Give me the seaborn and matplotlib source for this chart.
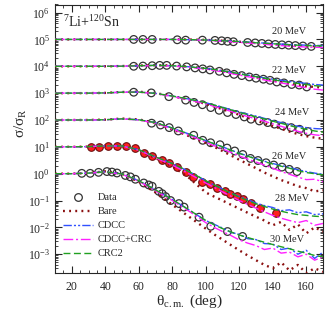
import matplotlib
matplotlib.use('Agg')
import matplotlib.pyplot as plt
import matplotlib.ticker as mticker
import seaborn as sns

# angle grid of the theory curves (deg)
TH = [10, 20, 30, 40, 50, 60, 70, 80, 90, 100, 105, 110, 115, 120, 125, 130,
      135, 140, 145, 150, 155, 160, 165, 170]

# 20 MeV
ang_20 = [57, 62.5, 68, 83, 88, 98, 105.5, 109.5, 113, 116.5, 125, 129.5, 133.5,
          137.5, 141.5, 145.5, 149.5, 153.5, 158, 163]
dat_20 = [1.0, 1.0, 1.0, 0.97, 0.94, 0.94, 0.92, 0.89, 0.85, 0.82, 0.77, 0.74,
          0.71, 0.68, 0.65, 0.63, 0.61, 0.59, 0.57, 0.55]
bare_20 = [1, 1, 1, 1, 1, 1, 1, 1.01, 0.99, 0.96, 0.93, 0.9, 0.86, 0.82, 0.78,
           0.74, 0.7, 0.67, 0.64, 0.61, 0.59, 0.57, 0.56, 0.55]
cdcc_20 = [1, 1, 1, 1, 1, 1, 1, 1, 0.98, 0.95, 0.92, 0.89, 0.86, 0.83, 0.8,
           0.76, 0.73, 0.7, 0.67, 0.65, 0.63, 0.61, 0.6, 0.59]
crc_20 = [1, 1, 1, 1, 1, 1, 1, 1, 0.97, 0.93, 0.9, 0.86, 0.82, 0.78, 0.74,
          0.7, 0.66, 0.62, 0.59, 0.56, 0.54, 0.52, 0.51, 0.5]
crc2_20 = [1, 1, 1, 1, 1, 1, 1, 1, 0.98, 0.95, 0.92, 0.89, 0.86, 0.83, 0.79,
           0.75, 0.72, 0.69, 0.66, 0.63, 0.61, 0.59, 0.58, 0.57]

# 22 MeV
ang_22 = [57, 62.5, 68, 72.5, 76.7, 82.6, 88.6, 93.6, 98.2, 102.5, 108.1, 112.5,
          116.9, 121.5, 126, 130, 134.4, 138.4, 142.4, 146.7, 151.3, 155.8, 160.3]
dat_22 = [1.0, 1.02, 1.05, 1.08, 1.08, 1.02, 0.95, 0.87, 0.8, 0.73, 0.65, 0.57,
          0.5, 0.45, 0.4, 0.36, 0.33, 0.3, 0.26, 0.24, 0.21, 0.2, 0.17]
bare_22 = [1, 1, 1, 1, 1.02, 1.06, 1.1, 1.07, 0.97, 0.83, 0.75, 0.67, 0.59,
           0.51, 0.45, 0.39, 0.34, 0.3, 0.26, 0.23, 0.2, 0.18, 0.17, 0.16]
cdcc_22 = [1, 1, 1, 1, 1.01, 1.05, 1.08, 1.05, 0.96, 0.83, 0.76, 0.68, 0.6,
           0.53, 0.47, 0.42, 0.37, 0.33, 0.3, 0.27, 0.25, 0.23, 0.21, 0.2]
crc_22 = [1, 1, 1, 1, 1.01, 1.04, 1.06, 1.02, 0.92, 0.78, 0.7, 0.62, 0.54,
          0.47, 0.41, 0.36, 0.31, 0.27, 0.24, 0.21, 0.18, 0.16, 0.14, 0.13]
crc2_22 = [1, 1, 1, 1, 1.01, 1.05, 1.08, 1.05, 0.96, 0.83, 0.76, 0.68, 0.6,
           0.53, 0.46, 0.41, 0.36, 0.32, 0.28, 0.25, 0.23, 0.21, 0.19, 0.18]

# 24 MeV
ang_24 = [57, 67.5, 78, 88, 93, 98, 103, 108, 113, 118, 123, 127, 132, 137, 141,
          146, 151, 156, 161]
dat_24 = [1.08, 1.02, 0.74, 0.55, 0.45, 0.37, 0.29, 0.23, 0.19, 0.16, 0.13,
          0.107, 0.092, 0.08, 0.07, 0.06, 0.052, 0.045, 0.037]
bare_24 = [1, 1, 1, 1.02, 1.1, 1.13, 1.0, 0.78, 0.57, 0.4, 0.32, 0.25, 0.2,
           0.155, 0.12, 0.095, 0.075, 0.06, 0.047, 0.037, 0.03, 0.025, 0.022, 0.02]
cdcc_24 = [1, 1, 1, 1.02, 1.08, 1.1, 0.98, 0.78, 0.6, 0.44, 0.36, 0.3, 0.24,
           0.2, 0.165, 0.14, 0.115, 0.095, 0.08, 0.068, 0.058, 0.052, 0.048, 0.046]
crc_24 = [1, 1, 1, 1.02, 1.08, 1.09, 0.96, 0.75, 0.56, 0.4, 0.32, 0.26, 0.21,
          0.165, 0.135, 0.11, 0.09, 0.072, 0.058, 0.047, 0.038, 0.032, 0.028, 0.026]
crc2_24 = [1, 1, 1, 1.02, 1.08, 1.1, 0.98, 0.78, 0.6, 0.44, 0.36, 0.29, 0.24,
           0.19, 0.16, 0.13, 0.11, 0.09, 0.075, 0.062, 0.052, 0.045, 0.039, 0.035]

# 26 MeV
ang_26 = [67.7, 73, 78.2, 83.6, 92.8, 98.2, 102.9, 108.5, 112.7, 117.3, 122.1,
          126.7, 131.2, 136, 140.6, 145.5, 149.9, 154.5]
dat_26 = [0.76, 0.65, 0.52, 0.39, 0.27, 0.175, 0.142, 0.12, 0.09, 0.07, 0.052,
          0.037, 0.031, 0.0255, 0.021, 0.0176, 0.0145, 0.012]
bare_26 = [1, 1, 1, 1.03, 1.13, 1.05, 0.78, 0.45, 0.25, 0.14, 0.1, 0.07, 0.048,
           0.033, 0.023, 0.016, 0.011, 0.008, 0.0058, 0.0045, 0.0034, 0.0029,
           0.0022, 0.0024]
cdcc_26 = [1, 1, 1, 1.02, 1.1, 1.02, 0.8, 0.5, 0.3, 0.17, 0.13, 0.1, 0.076,
           0.058, 0.046, 0.036, 0.029, 0.024, 0.02, 0.017, 0.014, 0.012, 0.0105,
           0.0095]
crc_26 = [1, 1, 1, 1.02, 1.1, 1.0, 0.76, 0.46, 0.27, 0.15, 0.11, 0.083, 0.062,
          0.046, 0.035, 0.027, 0.021, 0.016, 0.012, 0.0095, 0.0075, 0.006,
          0.0062, 0.005]
crc2_26 = [1, 1, 1, 1.02, 1.1, 1.02, 0.8, 0.5, 0.3, 0.17, 0.13, 0.1, 0.075,
           0.057, 0.045, 0.035, 0.028, 0.023, 0.019, 0.016, 0.013, 0.011, 0.01,
           0.009]

# 28 MeV
ang_28 = [31.3, 36.4, 41.8, 47.2, 52.4, 57.8, 63.1, 68, 73.7, 78.2, 83, 88,
          92.6, 97.6, 102.5, 106.9, 111.5, 114.5, 118.5, 122.4, 126.8, 132.4, 141.9]
dat_28 = [1.0, 1.0, 1.09, 1.09, 1.09, 0.89, 0.6, 0.44, 0.32, 0.25, 0.18, 0.12,
          0.076, 0.05, 0.04, 0.03, 0.023, 0.018, 0.0148, 0.0112, 0.0083, 0.0055,
          0.0034]
bare_28 = [1, 1, 1.02, 1.1, 1.1, 0.76, 0.38, 0.19, 0.07, 0.02, 0.014, 0.01,
           0.007, 0.005, 0.0035, 0.0025, 0.0018, 0.0012, 0.0016, 0.0008, 0.0013,
           0.0006, 0.001, 0.0007]
cdcc_28 = [1, 1, 1.02, 1.08, 1.08, 0.78, 0.42, 0.24, 0.12, 0.055, 0.038, 0.027,
           0.019, 0.014, 0.011, 0.008, 0.0065, 0.0055, 0.0042, 0.0045, 0.0035,
           0.0038, 0.003, 0.0032]
crc_28 = [1, 1, 1.02, 1.08, 1.07, 0.75, 0.39, 0.21, 0.1, 0.045, 0.031, 0.021,
          0.0145, 0.01, 0.0072, 0.0052, 0.0038, 0.0028, 0.0022, 0.0018, 0.0015,
          0.0018, 0.0012, 0.0014]
crc2_28 = [1, 1, 1.02, 1.08, 1.08, 0.78, 0.42, 0.24, 0.12, 0.055, 0.038, 0.027,
           0.019, 0.0135, 0.01, 0.0075, 0.006, 0.0048, 0.004, 0.0034, 0.003,
           0.0028, 0.0026, 0.0025]

# 30 MeV
ang_30 = [26, 31, 36, 41, 44, 47, 52, 55, 58, 63, 66, 68, 72, 74, 76, 79, 84,
          87, 96, 103, 113, 122]
dat_30 = [1.03, 1.03, 1.12, 1.2, 1.15, 1.06, 0.86, 0.76, 0.62, 0.45, 0.38, 0.34,
          0.22, 0.18, 0.14, 0.1, 0.077, 0.057, 0.024, 0.011, 0.007, 0.0046]
bare_30 = [1, 1, 1.06, 1.22, 0.98, 0.5, 0.2, 0.07, 0.025, 0.009, 0.0055, 0.0035,
           0.0022, 0.0014, 0.0009, 0.0006, 0.0004, 0.0003, 0.0005, 0.00025,
           0.0004, 0.0002, 0.0003, 0.00022]
cdcc_30 = [1, 1, 1.05, 1.18, 0.98, 0.55, 0.25, 0.11, 0.045, 0.018, 0.013,
           0.0095, 0.0065, 0.0055, 0.0038, 0.0035, 0.0025, 0.0024, 0.0015,
           0.0017, 0.001, 0.0014, 0.0007, 0.0012]
crc_30 = [1, 1, 1.05, 1.17, 0.95, 0.52, 0.23, 0.1, 0.04, 0.015, 0.01, 0.007,
          0.005, 0.0034, 0.0026, 0.0021, 0.0015, 0.0017, 0.0011, 0.0012, 0.0008,
          0.001, 0.0006, 0.0008]
crc2_30 = [1, 1, 1.05, 1.18, 0.98, 0.55, 0.25, 0.11, 0.045, 0.018, 0.0125,
           0.009, 0.0068, 0.0052, 0.0042, 0.0034, 0.0028, 0.0023, 0.0019, 0.0016,
           0.0013, 0.0011, 0.0009, 0.0008]

energies = ['20 MeV', '22 MeV', '24 MeV', '26 MeV', '28 MeV', '30 MeV']
offsets = [1e5, 1e4, 1e3, 1e2, 1e1, 1e0]
label_pos = [(149.7, 1.9e5), (149.7, 6.8e3), (151.8, 182), (149.7, 4.27),
             (151.5, 0.115), (148.8, 3.4e-3)]
x_ticks = [20, 40, 60, 80, 100, 120, 140, 160]
y_ticks = [1e-3, 1e-2, 1e-1, 1e0, 1e1, 1e2, 1e3, 1e4, 1e5, 1e6]

sets = [
    (ang_20, dat_20, bare_20, cdcc_20, crc_20, crc2_20),
    (ang_22, dat_22, bare_22, cdcc_22, crc_22, crc2_22),
    (ang_24, dat_24, bare_24, cdcc_24, crc_24, crc2_24),
    (ang_26, dat_26, bare_26, cdcc_26, crc_26, crc2_26),
    (ang_28, dat_28, bare_28, cdcc_28, crc_28, crc2_28),
    (ang_30, dat_30, bare_30, cdcc_30, crc_30, crc2_30),
]

sns.set_style('ticks')
plt.rcParams['font.family'] = ['Liberation Serif', 'DejaVu Serif']
plt.rcParams['mathtext.fontset'] = 'custom'
plt.rcParams['mathtext.rm'] = 'Liberation Serif'
plt.rcParams['mathtext.it'] = 'Liberation Serif:italic'

fig = plt.figure(figsize=(3.34, 3.12), dpi=100)
ax = fig.add_axes([55 / 334, 1 - 273 / 312, 268 / 334, 268.5 / 312])

styles = {
    'Bare': dict(color='#8b1010', lw=1.7, linestyle=(0, (0.8, 1.8))),
    'CDCC': dict(color='#3050ff', lw=1.0, linestyle=(0, (6, 1.5, 1.5, 1.5, 1.5, 1.5))),
    'CDCC+CRC': dict(color='#ff20ff', lw=1.0, linestyle=(0, (7, 2, 1.5, 2))),
    'CRC2': dict(color='#20a020', lw=1.0, linestyle=(0, (5, 2.5))),
}

for i, (ang, dat, bare, cdcc, crc, crc2) in enumerate(sets):
    f = offsets[i]
    if energies[i] == '28 MeV':
        sns.scatterplot(x=ang, y=[v * f for v in dat], ax=ax, marker='o', s=30,
                        facecolor='#ff2020', edgecolor='#6a1010', linewidth=0.8,
                        zorder=2, legend=False)
    else:
        sns.scatterplot(x=ang, y=[v * f for v in dat], ax=ax, marker='o', s=30,
                        facecolor='none', edgecolor='#333333', linewidth=0.9,
                        zorder=2, legend=False)
    for name, vals in [('Bare', bare), ('CDCC', cdcc), ('CDCC+CRC', crc), ('CRC2', crc2)]:
        sns.lineplot(x=TH, y=[v * f for v in vals], ax=ax, sort=False,
                     estimator=None, zorder=3, legend=False, **styles[name])
    ax.text(label_pos[i][0], label_pos[i][1], energies[i], ha='center',
            va='center', fontsize=7.5)

ax.set_yscale('log')
ax.set_xlim(10, 170)
ax.set_ylim(2e-4, 2e6)
ax.xaxis.set_major_locator(mticker.FixedLocator(x_ticks))
ax.xaxis.set_minor_locator(mticker.FixedLocator(list(range(10, 171, 5))))
ax.yaxis.set_major_locator(mticker.FixedLocator(y_ticks))
minor_y = [m * d for d in [1e-4] + y_ticks[:-1] for m in range(2, 10)
           if 2e-4 <= m * d <= 2e6] + [2e6]
ax.yaxis.set_minor_locator(mticker.FixedLocator(minor_y))
ax.yaxis.set_major_formatter(mticker.LogFormatterSciNotation())
ax.yaxis.set_minor_formatter(mticker.NullFormatter())
ax.tick_params(which='both', direction='in', top=True, right=True, labelsize=8.5)
ax.tick_params(axis='x', which='major', pad=6)
ax.tick_params(which='major', length=5, width=0.8)
ax.tick_params(which='minor', length=2.5, width=0.6)
for sp in ax.spines.values():
    sp.set_linewidth(0.8)

ax.set_xlabel('θ$_{\\rm c.m.}$ (deg)', fontsize=11)
ax.xaxis.set_label_coords(0.5, -0.075)
ax.set_ylabel('σ/σ$_{\\rm R}$', fontsize=11)
ax.yaxis.set_label_coords(-0.097, 0.56)
ax.text(0.03, 0.935, '$^{7}$Li+$^{120}$Sn', transform=ax.transAxes,
        fontsize=10, va='center', ha='left')

handles = [
    plt.Line2D([], [], marker='o', linestyle='none', markerfacecolor='none',
               markeredgecolor='#333333', markersize=5.5, markeredgewidth=0.9),
    plt.Line2D([], [], **styles['Bare']),
    plt.Line2D([], [], **styles['CDCC']),
    plt.Line2D([], [], **styles['CDCC+CRC']),
    plt.Line2D([], [], **styles['CRC2']),
]
ax.legend(handles, ['Data', 'Bare', 'CDCC', 'CDCC+CRC', 'CRC2'], loc='lower left',
          bbox_to_anchor=(0.03, 0.055), frameon=False, fontsize=7.5,
          handlelength=2.9, handletextpad=0.45, labelspacing=0.45,
          borderpad=0, borderaxespad=0)

fig.savefig('out.png', dpi=100)
